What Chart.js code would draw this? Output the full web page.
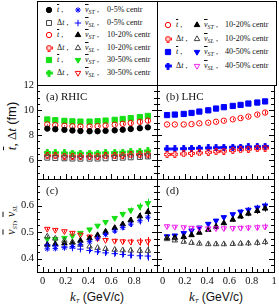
<!DOCTYPE html>
<html>
<head>
<meta charset="utf-8">
<script src="https://cdn.jsdelivr.net/npm/chart.js@4/dist/chart.umd.min.js"></script>
<style>
  body { margin: 0; width: 279px; height: 307px; overflow: hidden; background: #fff; position: relative; font-family: "Liberation Serif", serif; color: #111; }
  canvas.layer { position: absolute; left: 0; top: 0; }
  .box { position: absolute; border: 1px solid #000; box-sizing: border-box; background: #fff; }
  .lg { position: absolute; white-space: nowrap; font-size: 8px; line-height: 10px; height: 10px; }
  .lg canvas { position: absolute; }
  .ov { text-decoration: overline; font-style: italic; }
  sub { font-size: 6px; font-style: italic; vertical-align: -2px; line-height: 0; }
  .ttl { position: absolute; white-space: nowrap; transform: translate(-50%, -50%) rotate(-90deg); }
  .xt { position: absolute; white-space: nowrap; transform: translate(-50%, -50%); font-family: "Liberation Sans", sans-serif; font-size: 12px; }
  .xt i { font-family: "Liberation Serif", serif; font-size: 13px; }
</style>
</head>
<body>
<div class="box" style="left:37px;top:1px;width:121px;height:85px"></div>
<div class="box" style="left:157px;top:1px;width:120px;height:85px"></div>
<div id="legend"></div>
<div class="ttl" style="left:12px;top:126px;font-size:13px"><span class="ov">t</span>, Δ<i>t</i> <span style="font-family:'Liberation Sans',sans-serif">(fm)</span></div>
<div class="ttl" style="left:11px;top:220px;font-size:12px"><span class="ov">v</span><sub>ST</sub>, <span class="ov">v</span><sub>SL</sub></div>
<div class="xt" style="left:97px;top:297px"><i>k</i><sub>T</sub> (GeV/c)</div>
<div class="xt" style="left:216px;top:297px"><i>k</i><sub>T</sub> (GeV/c)</div>
<script>
const kT = [0.04, 0.11, 0.19, 0.26, 0.33, 0.41, 0.48, 0.55, 0.63, 0.70, 0.77, 0.85, 0.92];

// (a) RHIC, fm
const tRhic05 = [8.52, 8.47, 8.42, 8.37, 8.33, 8.31, 8.31, 8.34, 8.38, 8.43, 8.49, 8.55, 8.62];
const dtRhic05 = [6.20, 6.17, 6.15, 6.13, 6.12, 6.12, 6.13, 6.15, 6.17, 6.20, 6.23, 6.26, 6.30];
const tRhic1020 = [8.86, 8.80, 8.75, 8.71, 8.69, 8.69, 8.72, 8.77, 8.83, 8.90, 8.97, 9.06, 9.16];
const dtRhic1020 = [6.37, 6.35, 6.33, 6.32, 6.31, 6.31, 6.32, 6.34, 6.36, 6.39, 6.42, 6.45, 6.48];
const tRhic3050 = [9.25, 9.19, 9.14, 9.10, 9.08, 9.08, 9.11, 9.16, 9.22, 9.29, 9.36, 9.44, 9.53];
const dtRhic3050 = [6.62, 6.60, 6.58, 6.57, 6.56, 6.56, 6.57, 6.59, 6.61, 6.64, 6.67, 6.70, 6.74];
const errRhic = [0.04, 0.04, 0.04, 0.04, 0.05, 0.05, 0.06, 0.07, 0.08, 0.10, 0.12, 0.15, 0.20];

// (b) LHC, fm
const tLhc1020 = [8.85, 8.85, 8.85, 8.88, 8.94, 8.99, 9.07, 9.15, 9.26, 9.36, 9.48, 9.64, 9.80];
const dtLhc1020 = [6.45, 6.47, 6.50, 6.54, 6.58, 6.63, 6.68, 6.73, 6.78, 6.83, 6.88, 6.92, 6.97];
const tLhc4050 = [9.60, 9.64, 9.69, 9.77, 9.88, 9.98, 10.12, 10.23, 10.33, 10.41, 10.52, 10.60, 10.69];
const dtLhc4050 = [6.90, 6.90, 6.92, 6.94, 6.96, 6.98, 7.00, 7.02, 7.04, 7.05, 7.07, 7.08, 7.10];
const errLhc = [0.03, 0.03, 0.03, 0.04, 0.04, 0.05, 0.06, 0.07, 0.08, 0.09, 0.10, 0.12, 0.14];

// (c) RHIC velocities
const vstRhic05 = [0.437, 0.438, 0.441, 0.446, 0.453, 0.464, 0.477, 0.491, 0.504, 0.517, 0.530, 0.543, 0.556];
const vslRhic05 = [0.452, 0.448, 0.444, 0.440, 0.436, 0.431, 0.426, 0.422, 0.419, 0.416, 0.413, 0.411, 0.410];
const vstRhic1020 = [0.453, 0.455, 0.458, 0.462, 0.468, 0.477, 0.489, 0.502, 0.516, 0.530, 0.545, 0.560, 0.576];
const vslRhic1020 = [0.484, 0.476, 0.468, 0.460, 0.453, 0.446, 0.441, 0.437, 0.434, 0.432, 0.431, 0.430, 0.430];
const vstRhic3050 = [0.474, 0.474, 0.478, 0.486, 0.497, 0.510, 0.524, 0.538, 0.553, 0.568, 0.582, 0.596, 0.609];
const vslRhic3050 = [0.512, 0.508, 0.503, 0.497, 0.490, 0.483, 0.476, 0.470, 0.467, 0.465, 0.464, 0.464, 0.465];
const errVRhic = [0.004, 0.004, 0.004, 0.005, 0.005, 0.006, 0.006, 0.007, 0.008, 0.009, 0.011, 0.014, 0.017];

// (d) LHC velocities
const vstLhc1020 = [0.478, 0.479, 0.482, 0.489, 0.498, 0.509, 0.521, 0.534, 0.547, 0.559, 0.570, 0.580, 0.589];
const vslLhc1020 = [0.474, 0.469, 0.464, 0.460, 0.457, 0.455, 0.455, 0.455, 0.456, 0.457, 0.458, 0.460, 0.463];
const vstLhc4050 = [0.484, 0.487, 0.496, 0.506, 0.517, 0.531, 0.543, 0.556, 0.567, 0.577, 0.584, 0.592, 0.600];
const vslLhc4050 = [0.522, 0.520, 0.518, 0.516, 0.515, 0.514, 0.514, 0.514, 0.515, 0.516, 0.517, 0.518, 0.520];
const errVLhc = [0.005, 0.005, 0.005, 0.006, 0.006, 0.007, 0.007, 0.008, 0.008, 0.009, 0.010, 0.011, 0.012];

// tick labels
const yTicksT = [6, 8, 10, 12];
const yTicksV = [0.4, 0.5, 0.6];
const xTicksLeft = [0, 0.2, 0.4, 0.6, 0.8];
const xTicksRight = [0, 0.2, 0.4, 0.6, 0.8, 1];

const RED = '#ff0000', GREEN = '#16e016', BLUE = '#0000ff', MAG = '#ee22ee', GREY = '#444';

function crossImg(color, filled) {
  const c = document.createElement('canvas');
  c.width = 7; c.height = 7;
  const g = c.getContext('2d');
  const pts = [[2.5,0.5],[4.5,0.5],[4.5,2.5],[6.5,2.5],[6.5,4.5],[4.5,4.5],[4.5,6.5],[2.5,6.5],[2.5,4.5],[0.5,4.5],[0.5,2.5],[2.5,2.5]];
  g.beginPath();
  pts.forEach((p, i) => i ? g.lineTo(p[0], p[1]) : g.moveTo(p[0], p[1]));
  g.closePath();
  g.strokeStyle = color; g.lineWidth = 1;
  if (filled) { g.fillStyle = color; g.fill(); }
  g.stroke();
  return c;
}

// marker styles (shared by plots and legends)
const marks = {
  dot:      { style: 'circle', r: 2.7, color: '#000', fill: true },
  sqOpen:   { style: 'rect', r: 3.5, color: GREY, fill: false },
  circRed:  { style: 'circle', r: 2.7, color: RED, fill: false },
  xRed:     { style: crossImg(RED, false), r: 3, color: RED, fill: false },
  sqGreen:  { style: 'rect', r: 3.7, color: GREEN, fill: true },
  xGreen:   { style: crossImg(GREEN, true), r: 3, color: GREEN, fill: true },
  starBlue: { style: 'star', r: 2.8, color: BLUE, fill: false },
  plusBlue: { style: 'cross', r: 3.2, color: BLUE, fill: false },
  triBlack: { style: 'triangle', r: 3.2, color: '#000', fill: true },
  triOpen:  { style: 'triangle', r: 3.2, color: GREY, fill: false },
  dnGreen:  { style: 'triangle', r: 3.2, color: GREEN, fill: true, rot: 180 },
  dnRed:    { style: 'triangle', r: 3.2, color: RED, fill: false, rot: 180 },
  sqBlue:   { style: 'rect', r: 3.7, color: BLUE, fill: true },
  xBlue:    { style: crossImg(BLUE, true), r: 3, color: BLUE, fill: true },
  dnBlue:   { style: 'triangle', r: 3.2, color: BLUE, fill: true, rot: 180 },
  dnMag:    { style: 'triangle', r: 3.2, color: MAG, fill: false, rot: 180 }
};

function ser(values, m, err) {
  const s = marks[m];
  return {
    data: kT.map((x, i) => ({ x: x, y: values[i] })),
    pointStyle: s.style,
    pointRadius: s.r,
    pointRotation: s.rot || 0,
    pointBorderColor: s.color,
    pointBackgroundColor: s.fill ? s.color : 'rgba(0,0,0,0)',
    pointBorderWidth: 1,
    showLine: false,
    errors: err
  };
}

const errBars = {
  id: 'errBars',
  beforeDatasetsDraw(chart) {
    const { ctx, scales: { x, y } } = chart;
    ctx.save();
    ctx.lineWidth = 1;
    chart.data.datasets.forEach(ds => {
      ctx.strokeStyle = ds.pointBorderColor;
      ds.data.forEach((p, i) => {
        const px = Math.round(x.getPixelForValue(p.x)) + 0.5;
        ctx.beginPath();
        ctx.moveTo(px, y.getPixelForValue(p.y - ds.errors[i]));
        ctx.lineTo(px, y.getPixelForValue(p.y + ds.errors[i]));
        ctx.stroke();
      });
    });
    ctx.restore();
  }
};

const frame = {
  id: 'frame',
  afterDraw(chart, args, o) {
    const { ctx, chartArea: a, scales: { x, y } } = chart;
    ctx.save();
    ctx.strokeStyle = '#000';
    ctx.lineWidth = 1;
    ctx.strokeRect(a.left + 0.5, a.top + 0.5, a.right - a.left, a.bottom - a.top);
    ctx.beginPath();
    const isMajor = (v, step) => Math.abs(v / step - Math.round(v / step)) < 1e-6;
    for (let v = x.min; v <= x.max + 1e-9; v += o.xMinor) {
      const px = Math.round(x.getPixelForValue(v)) + 0.5;
      const len = isMajor(v, o.xMajor) ? 5 : 3;
      ctx.moveTo(px, a.bottom); ctx.lineTo(px, a.bottom - len);
    }
    for (let v = Math.ceil(y.min / o.yMinor) * o.yMinor; v <= y.max + 1e-9; v += o.yMinor) {
      const py = Math.round(y.getPixelForValue(v)) + 0.5;
      const len = isMajor(v, o.yMajor) ? 5 : 3;
      ctx.moveTo(a.left, py); ctx.lineTo(a.left + len, py);
      ctx.moveTo(a.right, py); ctx.lineTo(a.right - len, py);
    }
    ctx.stroke();
    ctx.fillStyle = '#111';
    ctx.font = '10.5px "Liberation Serif"';
    if (o.yLabels) {
      ctx.textAlign = 'right'; ctx.textBaseline = 'middle';
      o.yLabels.forEach(v => ctx.fillText(String(v), a.left - 3, y.getPixelForValue(v)));
    }
    if (o.xLabels) {
      ctx.textAlign = 'center'; ctx.textBaseline = 'top';
      o.xLabels.forEach(v => ctx.fillText(String(v), x.getPixelForValue(v), a.bottom + 4));
    }
    ctx.font = '11px "Liberation Serif"';
    ctx.textAlign = 'left'; ctx.textBaseline = 'middle';
    ctx.fillText(o.title, a.left + 9, a.top + 12);
    ctx.restore();
  }
};

function panel(pad, yMin, yMax, datasets, opts) {
  const cv = document.createElement('canvas');
  cv.className = 'layer';
  cv.width = 279; cv.height = 307;
  document.body.appendChild(cv);
  return new Chart(cv, {
    type: 'scatter',
    data: { datasets: datasets },
    options: {
      responsive: false,
      animation: false,
      devicePixelRatio: 1,
      layout: { padding: pad },
      plugins: { legend: { display: false }, tooltip: { enabled: false }, frame: opts },
      scales: {
        x: { type: 'linear', min: -0.05, max: 1.0, display: false },
        y: { type: 'linear', min: yMin, max: yMax, display: false }
      }
    },
    plugins: [errBars, frame]
  });
}

const tOpts = { xMajor: 0.2, xMinor: 0.05, yMajor: 2, yMinor: 0.5 };
const vOpts = { xMajor: 0.2, xMinor: 0.05, yMajor: 0.1, yMinor: 0.025 };

panel({ left: 37, top: 85, right: 122, bottom: 128 }, 4.5, 12, [
  ser(dtRhic05, 'sqOpen', errRhic),
  ser(dtRhic1020, 'xRed', errRhic),
  ser(dtRhic3050, 'xGreen', errRhic),
  ser(tRhic05, 'dot', errRhic),
  ser(tRhic1020, 'circRed', errRhic),
  ser(tRhic3050, 'sqGreen', errRhic)
], Object.assign({ yLabels: yTicksT, title: '(a) RHIC' }, tOpts));

panel({ left: 157, top: 85, right: 5, bottom: 128 }, 4.5, 12, [
  ser(dtLhc1020, 'xRed', errLhc),
  ser(dtLhc4050, 'xBlue', errLhc),
  ser(tLhc1020, 'circRed', errLhc),
  ser(tLhc4050, 'sqBlue', errLhc)
], Object.assign({ title: '(b) LHC' }, tOpts));

panel({ left: 37, top: 179, right: 122, bottom: 35 }, 0.35, 0.7, [
  ser(vslRhic05, 'plusBlue', errVRhic),
  ser(vstRhic05, 'starBlue', errVRhic),
  ser(vslRhic1020, 'triOpen', errVRhic),
  ser(vstRhic1020, 'triBlack', errVRhic),
  ser(vslRhic3050, 'dnRed', errVRhic),
  ser(vstRhic3050, 'dnGreen', errVRhic)
], Object.assign({ yLabels: yTicksV, xLabels: xTicksLeft, title: '(c)' }, vOpts));

panel({ left: 157, top: 179, right: 5, bottom: 35 }, 0.35, 0.7, [
  ser(vslLhc1020, 'triOpen', errVLhc),
  ser(vslLhc4050, 'dnMag', errVLhc),
  ser(vstLhc1020, 'triBlack', errVLhc),
  ser(vstLhc4050, 'dnBlue', errVLhc)
], Object.assign({ xLabels: xTicksRight, title: '(d)' }, vOpts));

// legends
const legendLeft = [
  ['dot', 't', 'starBlue', 'ST', '0-5% centr'],
  ['sqOpen', 'dt', 'plusBlue', 'SL', '0-5% centr'],
  ['circRed', 't', 'triBlack', 'ST', '10-20% centr'],
  ['xRed', 'dt', 'triOpen', 'SL', '10-20% centr'],
  ['sqGreen', 't', 'dnGreen', 'ST', '30-50% centr'],
  ['xGreen', 'dt', 'dnRed', 'SL', '30-50% centr']
];
const legendRight = [
  ['circRed', 't', 'triBlack', 'ST', '10-20% centr'],
  ['xRed', 'dt', 'triOpen', 'SL', '10-20% centr'],
  ['sqBlue', 't', 'dnBlue', 'ST', '40-50% centr'],
  ['xBlue', 'dt', 'dnMag', 'SL', '40-50% centr']
];

function markCanvas(key) {
  const s = marks[key];
  const c = document.createElement('canvas');
  c.width = 10; c.height = 10;
  const g = c.getContext('2d');
  g.strokeStyle = s.color;
  g.fillStyle = s.fill ? s.color : 'rgba(0,0,0,0)';
  g.lineWidth = 1;
  Chart.helpers.drawPoint(g, { pointStyle: s.style, radius: s.r, rotation: s.rot || 0, borderWidth: 1 }, 5, 5);
  return c;
}

function addLegend(rows, x0, y0, dy, pos) {
  const root = document.getElementById('legend');
  rows.forEach((r, i) => {
    const row = document.createElement('div');
    row.className = 'lg';
    row.style.left = x0 + 'px';
    row.style.top = (y0 + i * dy - 5) + 'px';
    row.style.width = '120px';
    const m1 = markCanvas(r[0]); m1.style.left = (pos[0] - 5) + 'px'; m1.style.top = '0px';
    const m2 = markCanvas(r[2]); m2.style.left = (pos[2] - 5) + 'px'; m2.style.top = '0px';
    const t1 = document.createElement('span');
    t1.style.position = 'absolute'; t1.style.left = pos[1] + 'px';
    t1.innerHTML = r[1] === 't' ? '<span class="ov">t</span> ,' : 'Δ<i>t</i> ,';
    const t2 = document.createElement('span');
    t2.style.position = 'absolute'; t2.style.left = pos[3] + 'px';
    t2.innerHTML = '<span class="ov">v</span><sub>' + r[3] + '</sub> ,';
    const t3 = document.createElement('span');
    t3.style.position = 'absolute'; t3.style.left = pos[4] + 'px';
    t3.textContent = r[4];
    [m1, t1, m2, t2, t3].forEach(e => row.appendChild(e));
    root.appendChild(row);
  });
}

addLegend(legendLeft, 37, 10, 12.6, [12, 20, 41, 48, 70]);
addLegend(legendRight, 157, 25, 13.6, [11, 19, 40, 47, 68]);
</script>
</body>
</html>
